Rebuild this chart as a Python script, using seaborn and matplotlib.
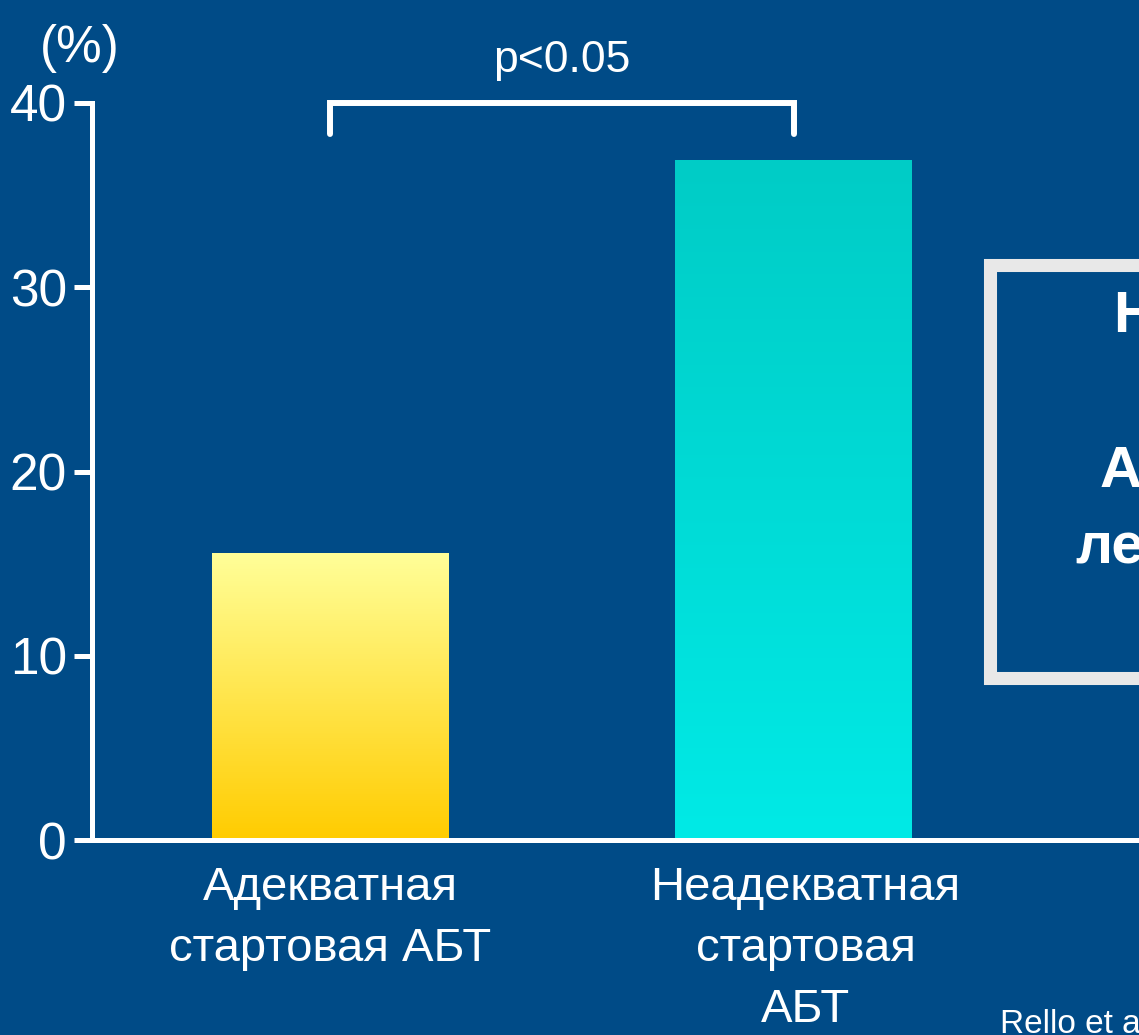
import numpy as np
import pandas as pd
import matplotlib
matplotlib.use('Agg')
import matplotlib.pyplot as plt
import matplotlib.transforms as mtransforms
import seaborn as sns
from matplotlib.colors import LinearSegmentedColormap
from matplotlib.lines import Line2D

categories = ['Адекватная\nстартовая АБТ', 'Неадекватная\nстартовая\nАБТ']
mortality = [15.6, 36.9]
yticks = [0, 10, 20, 30, 40]
top_colors = ['#FFFF99', '#00CCC6']
bottom_colors = ['#FFCC00', '#00EAE6']
bracket_label = 'p<0.05'
box_fragments = ['Н', 'А', 'ле']
source_text = 'Rello et a'

bg = '#004B87'
W, H = 1139, 1035

sns.set_style('white')
plt.rcParams['font.family'] = ['Liberation Sans', 'DejaVu Sans']
plt.rcParams['text.color'] = 'white'

df = pd.DataFrame({'group': categories, 'value': mortality})

fig = plt.figure(figsize=(W / 100, H / 100), dpi=100, facecolor=bg)
ax = fig.add_axes([92 / W, 1 - 840 / H, 1 - 92 / W, (840 - 103) / H])
ax.set_facecolor(bg)

sns.barplot(data=df, x='group', y='value', hue='group', palette=bottom_colors,
            width=0.51, legend=False, ax=ax, saturation=1, linewidth=0)

# vertical gradient inside each bar
for patch, c_top, c_bot in zip(ax.patches, top_colors, bottom_colors):
    x0, y0, x1, y1 = patch.get_bbox().extents
    cmap = LinearSegmentedColormap.from_list('g', [c_bot, c_top])
    grad = np.linspace(0, 1, 256).reshape(-1, 1)
    im = ax.imshow(grad, extent=[x0, x1, y0, y1], origin='lower', aspect='auto',
                   cmap=cmap, zorder=patch.get_zorder() + 0.1)
    im.set_clip_path(patch)

ax.set_xlim(-0.5135, 1.745)
ax.set_ylim(0, 40)
ax.set_yticks(yticks)
ax.set_xlabel('')
ax.set_ylabel('')

for s in ['top', 'right']:
    ax.spines[s].set_visible(False)
for s in ['left', 'bottom']:
    ax.spines[s].set_color('white')
    ax.spines[s].set_linewidth(3.6)
    ax.spines[s].set_zorder(5)

ax.tick_params(axis='y', direction='out', length=13, width=3.6, color='white',
               labelcolor='white', labelsize=37, pad=5, left=True)
ax.tick_params(axis='x', length=0, labelcolor='white', labelsize=34, pad=19)
for lbl in ax.get_xticklabels():
    lbl.set_linespacing(1.5)
# second label sits a little right of its bar in the original slide
shift = mtransforms.ScaledTranslation(12 / 100, 0, fig.dpi_scale_trans)
lbl2 = ax.get_xticklabels()[1]
lbl2.set_transform(lbl2.get_transform() + shift)

# significance bracket
ax.plot([0, 0, 1, 1], [38.3, 40, 40, 38.3], color='white', lw=4.3,
        solid_joinstyle='miter', clip_on=False, zorder=6)
ax.text(0.5, 41.7, bracket_label, ha='center', va='baseline', fontsize=32,
        color='white')

fig.text(40 / W, 1 - 62 / H, '(%)', ha='left', va='baseline', fontsize=37,
         color='white')

# framed note on the right (cut off by the slide edge)
bx = np.array([1300, 990, 990, 1300]) / W
by = 1 - np.array([265, 265, 678, 678]) / H
fig.add_artist(Line2D(bx, by, transform=fig.transFigure, color='#E8E8E8',
                      lw=9.4, solid_joinstyle='miter', zorder=3))
for txt, xl, yb in zip(box_fragments, [1113, 1100, 1075], [332, 487, 563]):
    fig.text(xl / W, 1 - yb / H, txt, ha='left', va='baseline', fontsize=42,
             fontweight='bold', color='white')

fig.text(1000 / W, 1 - 1033 / H, source_text, ha='left', va='baseline',
         fontsize=24, color='white')

fig.savefig('out.png', dpi=100, facecolor=bg)
